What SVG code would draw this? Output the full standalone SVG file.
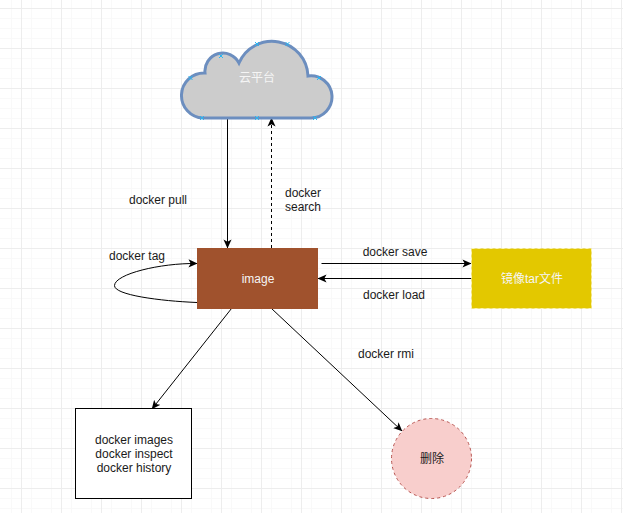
<svg xmlns="http://www.w3.org/2000/svg" width="623" height="513" viewBox="0 0 623 513">
<defs>
<pattern id="grid" width="40" height="40" patternUnits="userSpaceOnUse" x="1" y="8">
<path d="M10.5 0V40M20.5 0V40M30.5 0V40M0 10.5H40M0 20.5H40M0 30.5H40" fill="none" stroke="#f9f9f9" stroke-width="1"/>
<path d="M20.5 0V40M0 0.5H40" fill="none" stroke="#ededed" stroke-width="1"/>
</pattern>
<marker id="arrow" viewBox="0 0 10 10" refX="9.500" refY="5" markerWidth="9" markerHeight="9" markerUnits="userSpaceOnUse" orient="auto">
<path d="M0 0.5L10 5L0 9.500L2.500 5Z" fill="#000"/>
</marker>
</defs>
<style>
text{font-family:"Liberation Sans","Noto Sans CJK SC",sans-serif;font-size:12px;text-anchor:middle}
.l{fill:#1a1a1a}
.w{fill:#f5f5f5}
.c{fill:none;stroke:#000;stroke-width:1;marker-end:url(#arrow)}
.x{fill:none;stroke:#29b6f2;stroke-width:1}
</style>
<rect width="623" height="513" fill="#fff"/>
<rect width="623" height="513" fill="url(#grid)"/>
<g id="connectors">
<path class="c" d="M227.500 118V248"/>
<path class="c" stroke-dasharray="3 3" d="M271.500 248V118"/>
<path class="c" d="M321.500 263.500H471"/>
<path class="c" d="M471.500 278.500H318"/>
<path class="c" d="M197 302.500C160 301 114 295 114.500 285.500C115 274 160 263 197 263.500"/>
<path class="c" d="M231.500 308.500L152 409"/>
<path class="c" d="M271.500 308.500L402 431"/>
</g>
<g id="cloud">
<path d="M203 118A22.500 22.500 0 0 1 205 73A18 18 0 0 1 239 63A36 36 0 0 1 308 76A21.100 21.100 0 1 1 311 118Z" fill="#cccccc" stroke="#6c8ebf" stroke-width="3"/>
<path class="x" d="M200 116l4 4m0-4l-4 4M255 116l4 4m0-4l-4 4M313 116l4 4m0-4l-4 4M317 76l4 4m0-4l-4 4M285.500 42l4 4m0-4l-4 4M255 42l4 4m0-4l-4 4M219 54l4 4m0-4l-4 4M188.500 76l4 4m0-4l-4 4"/>
<text class="w" x="257" y="82">云平台</text>
</g>
<g id="image">
<rect x="197" y="248" width="121" height="61" fill="#a0522d"/>
<text class="w" x="258" y="283">image</text>
</g>
<g id="tar">
<rect x="471.500" y="248.500" width="120" height="60" fill="#e3c800" stroke="#fbf3b0" stroke-dasharray="3 3"/>
<text class="w" x="532" y="283">镜像tar文件</text>
</g>
<g id="list">
<rect x="75.500" y="408.500" width="116" height="90" fill="#fff" stroke="#000"/>
<text class="l" x="134" y="444">docker images</text>
<text class="l" x="134" y="458">docker inspect</text>
<text class="l" x="134" y="472">docker history</text>
</g>
<g id="delete">
<circle cx="431.500" cy="458.500" r="40" fill="#f8cecc" stroke="#b85450" stroke-dasharray="3 3"/>
<text class="l" x="432" y="463">删除</text>
</g>
<g id="labels">
<text class="l" x="158" y="204">docker pull</text>
<text class="l" x="303" y="197">docker</text>
<text class="l" x="303" y="211">search</text>
<text class="l" x="137" y="260">docker tag</text>
<text class="l" x="395" y="256">docker save</text>
<text class="l" x="394" y="299">docker load</text>
<text class="l" x="386" y="358">docker rmi</text>
</g>
</svg>
